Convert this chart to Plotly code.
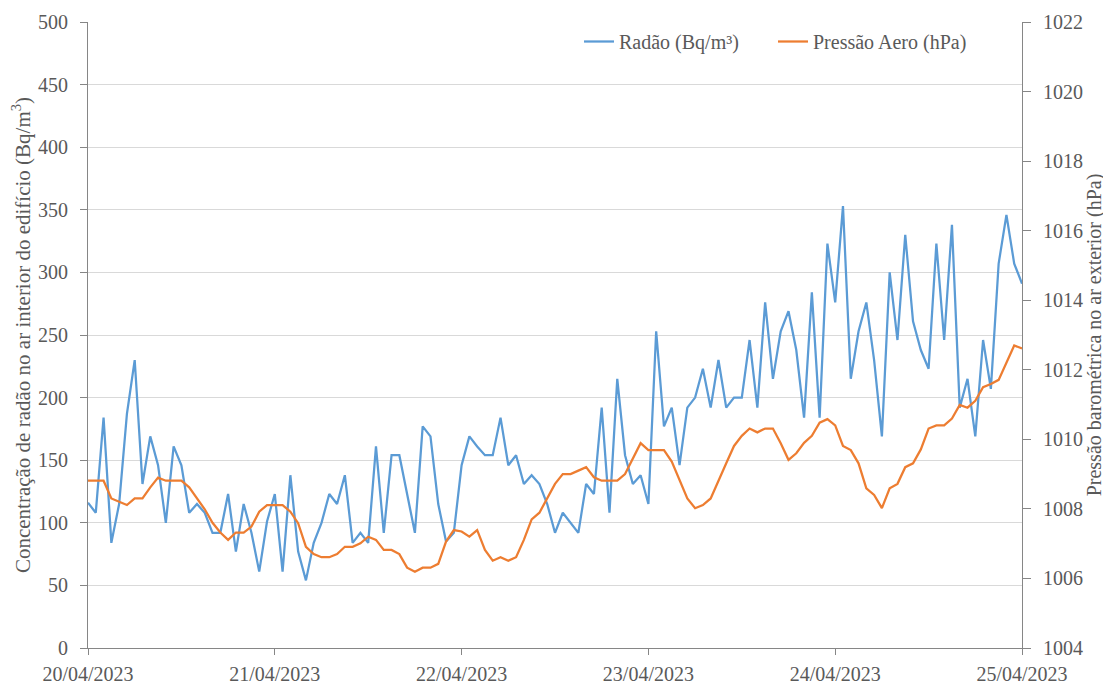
import pandas as pd
import plotly.graph_objects as go

times = pd.date_range("2023-04-20 00:00", "2023-04-25 00:00", freq="h")

radon = [116, 108, 184, 84, 115, 187, 230, 131, 169, 146,
         100, 161, 146, 108, 115, 108, 92, 92, 123, 77,
         115, 92, 61, 101, 123, 61, 138, 77, 54, 84,
         100, 123, 115, 138, 84, 92, 84, 161, 92, 154,
         154, 123, 92, 177, 169, 115, 85, 92, 146, 169,
         161, 154, 154, 184, 146, 154, 131, 138, 131, 115,
         92, 108, 100, 92, 131, 123, 192, 108, 215, 154,
         131, 138, 115, 253, 177, 192, 146, 192, 200, 223,
         192, 230, 192, 200, 200, 246, 192, 276, 215, 253,
         269, 238, 184, 284, 184, 323, 276, 353, 215, 253,
         276, 230, 169, 300, 246, 330, 261, 238, 223, 323,
         246, 338, 192, 215, 169, 246, 207, 307, 346, 307,
         291]

pressure = [1008.81, 1008.81, 1008.81, 1008.30, 1008.21, 1008.11, 1008.30, 1008.30, 1008.62, 1008.90,
            1008.81, 1008.81, 1008.81, 1008.62, 1008.30, 1007.99, 1007.60, 1007.32, 1007.11, 1007.32,
            1007.32, 1007.49, 1007.92, 1008.11, 1008.11, 1008.11, 1007.92, 1007.59, 1006.91, 1006.70,
            1006.61, 1006.61, 1006.70, 1006.91, 1006.91, 1007.01, 1007.20, 1007.11, 1006.82, 1006.82,
            1006.70, 1006.31, 1006.19, 1006.31, 1006.31, 1006.42, 1007.06, 1007.39, 1007.35, 1007.20,
            1007.39, 1006.82, 1006.51, 1006.61, 1006.51, 1006.61, 1007.11, 1007.70, 1007.89, 1008.30,
            1008.72, 1009.00, 1009.00, 1009.10, 1009.20, 1008.91, 1008.81, 1008.81, 1008.81, 1009.00,
            1009.45, 1009.89, 1009.69, 1009.69, 1009.69, 1009.36, 1008.83, 1008.30, 1008.02, 1008.11,
            1008.30, 1008.78, 1009.31, 1009.81, 1010.10, 1010.31, 1010.20, 1010.31, 1010.31, 1009.89,
            1009.41, 1009.60, 1009.90, 1010.10, 1010.48, 1010.58, 1010.40, 1009.81, 1009.69, 1009.31,
            1008.59, 1008.40, 1008.02, 1008.59, 1008.72, 1009.20, 1009.31, 1009.71, 1010.31, 1010.40,
            1010.40, 1010.60, 1010.99, 1010.91, 1011.11, 1011.50, 1011.59, 1011.71, 1012.20, 1012.70,
            1012.61]

name_radon = "Radão (Bq/m³)"
name_press = "Pressão Aero (hPa)"
title_left = "Concentração de radão no ar interior do edifício (Bq/m<sup>3</sup>)"
title_right = "Pressão barométrica no ar exterior (hPa)"

font = "Liberation Serif"
txt = "#595959"
axis_col = "#868686"
grid_col = "#D9D9D9"
fs = 20

fig = go.Figure()
fig.add_trace(go.Scatter(x=times, y=radon, name=name_radon, mode="lines",
                         line=dict(color="#5B9BD5", width=2.25), yaxis="y", legend="legend"))
fig.add_trace(go.Scatter(x=times, y=pressure, name=name_press, mode="lines",
                         line=dict(color="#ED7D31", width=2.25), yaxis="y2", legend="legend2"))

leg_common = dict(orientation="h", xanchor="left", y=1.0, yanchor="top", itemwidth=30,
                  font=dict(family=font, size=fs, color=txt), bgcolor="rgba(0,0,0,0)")

fig.update_layout(
    width=1103, height=676,
    margin=dict(l=80, r=89, t=14, b=36, autoexpand=False),
    paper_bgcolor="white", plot_bgcolor="white",
    font=dict(family=font, size=fs, color=txt),
    showlegend=True,
    legend=dict(x=0.5257, **leg_common),
    legend2=dict(x=0.7334, **leg_common),
    xaxis=dict(type="date", range=[times[0], times[-1]], dtick=86400000,
               tick0="2023-04-20", tickformat="%d/%m/%Y", automargin=False,
               showgrid=False, showline=True, linecolor=axis_col, linewidth=1,
               ticks="outside", ticklen=6, tickcolor=axis_col, ticklabelstandoff=2,
               tickfont=dict(family=font, size=fs, color=txt), zeroline=False),
    yaxis=dict(range=[0, 500], dtick=50, showgrid=True, gridcolor=grid_col, gridwidth=1,
               showline=True, linecolor=axis_col, linewidth=1, automargin=False,
               ticks="outside", ticklen=7, tickcolor=axis_col, ticklabelstandoff=8,
               tickfont=dict(family=font, size=fs, color=txt), zeroline=False,
               title=dict(text=title_left, font=dict(family=font, size=21, color=txt), standoff=6)),
    yaxis2=dict(range=[1004, 1022], dtick=2, overlaying="y", side="right",
                showgrid=False, showline=True, linecolor=axis_col, linewidth=1, automargin=False,
                ticks="outside", ticklen=8, tickcolor=axis_col, ticklabelstandoff=8,
                tickfont=dict(family=font, size=fs, color=txt), zeroline=False,
                title=dict(text=title_right, font=dict(family=font, size=fs, color=txt), standoff=2)),
)

fig.write_html("out.html")
